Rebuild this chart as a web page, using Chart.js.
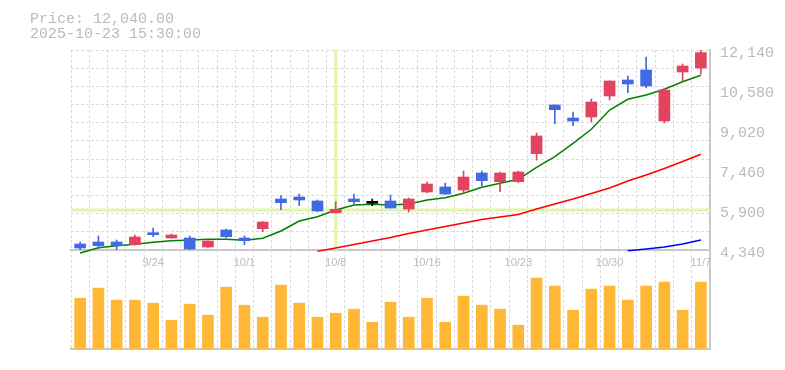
<!DOCTYPE html>
<html>
<head>
<meta charset="utf-8">
<script src="https://cdn.jsdelivr.net/npm/chart.js@4.4.0/dist/chart.umd.min.js"></script>
<style>
  body { margin: 0; background: #fff; }
  #wrap { position: relative; width: 785px; height: 370px; }
  #info { position: absolute; left: 30px; top: 12px; font: 15px/15px "Liberation Mono", monospace; color: #bbb; white-space: pre; }
  #vol { position: absolute; left: 0; top: 250px; }
  #price { position: absolute; left: 0; top: 0; }
</style>
</head>
<body>
<div id="wrap">
  <canvas id="vol" width="785" height="100"></canvas>
  <canvas id="price" width="785" height="370"></canvas>
  <div id="info">Price: 12,040.00
2025-10-23 15:30:00</div>
</div>
<script>
// trading days shown on the chart
const dates = ['9/17','9/18','9/19','9/22','9/24','9/25','9/26','9/29','9/30','10/1',
               '10/2','10/3','10/6','10/7','10/8','10/9','10/10','10/14','10/15','10/16',
               '10/17','10/20','10/21','10/22','10/23','10/24','10/27','10/28','10/29','10/30',
               '10/31','11/4','11/5','11/6','11/7'];
const tickDates = ['9/24','10/1','10/8','10/16','10/23','10/30','11/7'];

// OHLC
const opens  = [4574,4652,4652,4547,5015,4808,4808,4457,5120,4808,
                5171,6329,6407,6251,5794,6329,6160,6251,5939,6602,
                6797,6680,7343,7004,7004,8096,9995,9488,9527,10346,
                10970,11360,9371,11282,11438];
const highs  = [4652,4886,4730,4925,5198,4964,4886,4700,5159,4886,
                5450,6458,6524,6290,6224,6524,6329,6485,6368,6992,
                6953,7421,7421,7382,7421,8903,10000,9722,10229,10940,
                11126,11867,10658,11594,12140];
const lows   = [4340,4391,4360,4530,4859,4800,4345,4418,4820,4547,
                5054,5912,6068,5834,5790,6134,6068,5978,5822,6563,
                6510,6563,6848,6614,6965,7850,9266,9188,9332,10190,
                10475,10658,9293,10931,11204];
const closes = [4418,4508,4508,4847,4937,4925,4379,4691,4859,4703,
                5432,6185,6290,5861,5927,6224,6160,5978,6329,6914,
                6524,7187,7043,7343,7382,8786,9812,9371,10112,10931,
                10814,10736,10580,11516,12040];

// moving averages
const maShort = [4223,4430,4504,4562,4640,4703,4730,4757,4757,4718,
                 4796,5081,5471,5639,5900,6095,6122,6095,6134,6290,
                 6380,6551,6785,6941,7097,7565,7979,8501,9047,9800,
                 10217,10385,10607,10904,11153];
const maMid = [null,null,null,null,null,null,null,null,null,null,
               null,null,null,4289,4418,4555,4691,4828,4980,5120,
               5257,5393,5530,5627,5725,5939,6134,6329,6544,6758,
               7031,7265,7519,7792,8072];
const maLong = [null,null,null,null,null,null,null,null,null,null,
                null,null,null,null,null,null,null,null,null,null,
                null,null,null,null,null,null,null,null,null,null,
                4309,4379,4457,4574,4730];

// volume
const volumes = [152,182,146,146,137,86,134,101,185,131,
                 95,191,137,95,107,119,80,140,95,152,
                 80,158,131,119,71,212,188,116,179,188,
                 146,188,200,116,200];

const priceTicks = [4340,5900,7460,9020,10580,12140];
const crossDate = '10/8';
const crossPrice = 5900;

const YMIN = priceTicks[0], YMAX = priceTicks[priceTicks.length - 1];
const UP = '#e2445f', DOWN = '#4169e1', EVEN = '#000000';
const GRID = '#dcdcdc', AXIS = '#c8c8c8', TEXT = '#bbbbbb';

function candleColor(i) {
    if (closes[i] > opens[i]) return UP;
    if (closes[i] < opens[i]) return DOWN;
    return EVEN;
}

// dashed grid lines, skipping the right edge (solid axis border there)
function gridColor(c) {
    return c.index === dates.length ? 'transparent' : GRID;
}

const gridVals = [];
for (let k = 1; k <= 11; k++) gridVals.push(YMIN + k * (YMAX - YMIN) / 11);

// crosshair drawn under the candles
const crosshair = {
    id: 'crosshair',
    beforeDatasetsDraw(chart) {
        const {ctx, chartArea, scales} = chart;
        const x = scales.x.getPixelForValue(dates.indexOf(crossDate));
        const y = scales.y.getPixelForValue(crossPrice);
        ctx.save();
        ctx.strokeStyle = '#e2f4a8';
        ctx.lineWidth = 3;
        ctx.beginPath();
        ctx.moveTo(x, chartArea.top);
        ctx.lineTo(x, chartArea.bottom);
        ctx.moveTo(chartArea.left, y);
        ctx.lineTo(chartArea.right, y);
        ctx.stroke();
        ctx.restore();
    }
};

new Chart(document.getElementById('price'), {
    type: 'bar',
    data: {
        labels: dates,
        datasets: [
            { type: 'line', data: maShort, borderColor: '#008000', borderWidth: 1.5, pointRadius: 0, clip: false, order: 3 },
            { type: 'line', data: maMid, borderColor: '#ff0000', borderWidth: 1.5, pointRadius: 0, clip: false, order: 3 },
            { type: 'line', data: maLong, borderColor: '#0000ff', borderWidth: 1.5, pointRadius: 0, clip: false, order: 3 },
            {
                data: opens.map((o, i) => [o, closes[i]]),
                backgroundColor: (c) => candleColor(c.dataIndex),
                barThickness: 11, minBarLength: 2, grouped: false, order: 1
            },
            {
                data: lows.map((l, i) => [l, highs[i]]),
                backgroundColor: (c) => candleColor(c.dataIndex),
                barThickness: 1, grouped: false, order: 2
            }
        ]
    },
    options: {
        responsive: false,
        animation: false,
        devicePixelRatio: 1,
        layout: { padding: { top: 50, left: 0, right: 0, bottom: 0 } },
        plugins: { legend: { display: false }, tooltip: { enabled: false } },
        scales: {
            x: {
                offset: true,
                grid: { offset: true, color: gridColor, drawTicks: false },
                border: { color: AXIS, width: 2, dash: [3, 2] },
                ticks: {
                    autoSkip: false, maxRotation: 0, padding: 6, color: TEXT,
                    font: { family: 'Liberation Sans', size: 11 },
                    callback: (v, i) => tickDates.includes(dates[i]) ? dates[i] : ''
                },
                afterFit: (s) => { s.height = 120; }
            },
            yg: {
                position: 'left', min: YMIN, max: YMAX,
                grid: { color: GRID, drawTicks: false },
                border: { display: false, dash: [3, 2] },
                ticks: { display: false },
                afterBuildTicks: (s) => { s.ticks = gridVals.map(v => ({ value: v })); },
                afterFit: (s) => { s.width = 71; }
            },
            y: {
                position: 'right', min: YMIN, max: YMAX,
                grid: { display: false, drawTicks: false },
                border: { color: AXIS, width: 2 },
                ticks: {
                    color: TEXT, padding: 10, labelOffset: 3,
                    font: { family: 'Liberation Mono', size: 15 },
                    callback: (v) => v.toLocaleString('en-US')
                },
                afterBuildTicks: (s) => { s.ticks = priceTicks.map(v => ({ value: v })); },
                afterFit: (s) => { s.width = 75; }
            }
        }
    },
    plugins: [crosshair]
});

new Chart(document.getElementById('vol'), {
    type: 'bar',
    data: {
        labels: dates,
        datasets: [{ data: volumes, backgroundColor: '#ffb835', barThickness: 11 }]
    },
    options: {
        responsive: false,
        animation: false,
        devicePixelRatio: 1,
        layout: { padding: { left: 71, top: 0, right: 0, bottom: 0 } },
        plugins: { legend: { display: false }, tooltip: { enabled: false } },
        scales: {
            x: {
                offset: true,
                grid: { offset: true, color: gridColor, drawTicks: false },
                border: { color: AXIS, width: 2, dash: [3, 2] },
                ticks: { display: false },
                afterFit: (s) => { s.height = 1; }
            },
            y: {
                position: 'right', min: 0, max: 296,
                grid: { display: false, drawTicks: false },
                border: { color: AXIS, width: 2 },
                ticks: { display: false },
                afterFit: (s) => { s.width = 75; }
            }
        }
    }
});
</script>
</body>
</html>
